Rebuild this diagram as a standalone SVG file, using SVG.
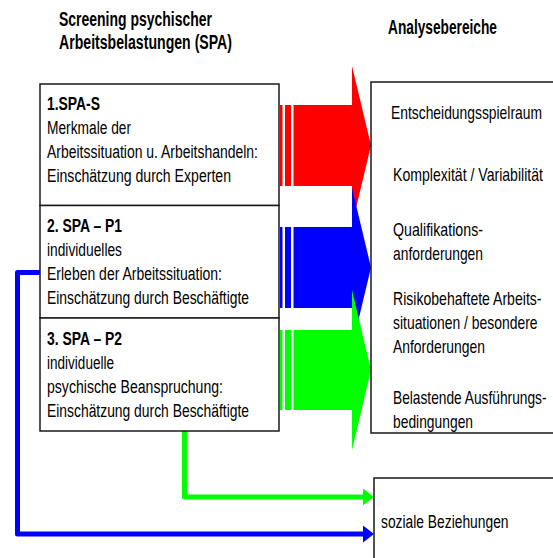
<svg xmlns="http://www.w3.org/2000/svg" width="553" height="558" viewBox="0 0 553 558">
<style>
text{font-family:"Liberation Sans",Arial,sans-serif;fill:#000;}
.t{font-size:20px;font-weight:bold;}
.h{font-size:18px;font-weight:bold;}
.n{font-size:18px;}
.box{fill:#fff;stroke:#1a1a1a;stroke-width:1.5;}
.open{fill:none;stroke:#1a1a1a;stroke-width:1.5;}
.ln{fill:none;stroke-width:5;stroke-linejoin:round;}
</style>
<defs>
<marker id="hg" markerUnits="userSpaceOnUse" viewBox="0 0 11 17" refX="0" refY="8.5" markerWidth="11" markerHeight="17" orient="auto"><path d="M0,0 L11,8.5 L0,17 z" fill="#00ff00"/></marker>
<marker id="hb" markerUnits="userSpaceOnUse" viewBox="0 0 11 17" refX="0" refY="8.5" markerWidth="11" markerHeight="17" orient="auto"><path d="M0,0 L11,8.5 L0,17 z" fill="#0000ff"/></marker>
</defs>
<g id="titles">
<text class="t" x="59" y="26" textLength="153" lengthAdjust="spacingAndGlyphs">Screening psychischer</text>
<text class="t" x="59" y="49" textLength="173" lengthAdjust="spacingAndGlyphs">Arbeitsbelastungen (SPA)</text>
<text class="t" x="388" y="34" textLength="109" lengthAdjust="spacingAndGlyphs">Analysebereiche</text>
</g>
<g id="connectors">
<g id="arrow-red" fill="#ff0000">
<rect x="280" y="105" width="2.5" height="81"/>
<rect x="285" y="105" width="6" height="81"/>
<polygon points="293.5,105 352,105 352,66 371,145.5 352,225 352,186 293.5,186"/>
</g>
<g id="arrow-blue" fill="#0000ff">
<rect x="280" y="227" width="2.5" height="81"/>
<rect x="285" y="227" width="6" height="81"/>
<polygon points="293.5,227 352,227 352,188 371,267.5 352,347 352,308 293.5,308"/>
</g>
<g id="arrow-green" fill="#00ff00">
<rect x="280" y="330" width="2.5" height="80"/>
<rect x="285" y="330" width="6" height="80"/>
<polygon points="293.5,330 352,330 352,290 371,370 352,450 352,410 293.5,410"/>
</g>
<polyline class="ln" stroke="#00ff00" points="184.5,431 184.5,497 363,497" marker-end="url(#hg)"/>
<polyline class="ln" stroke="#0000ff" points="40,272.5 17.5,272.5 17.5,534 363,534" marker-end="url(#hb)"/>
</g>
<g id="spa-s">
<rect class="box" x="40" y="84" width="239" height="121.5"/>
<text class="h" x="47" y="110" textLength="53" lengthAdjust="spacingAndGlyphs">1.SPA-S</text>
<text class="n" x="47" y="134" textLength="84" lengthAdjust="spacingAndGlyphs">Merkmale der</text>
<text class="n" x="47" y="158" textLength="211" lengthAdjust="spacingAndGlyphs">Arbeitssituation u. Arbeitshandeln:</text>
<text class="n" x="47" y="182" textLength="184" lengthAdjust="spacingAndGlyphs">Einschätzung durch Experten</text>
</g>
<g id="spa-p1">
<rect class="box" x="40" y="205.5" width="239" height="112.5"/>
<text class="h" x="47" y="232" textLength="75" lengthAdjust="spacingAndGlyphs">2. SPA – P1</text>
<text class="n" x="47" y="256" textLength="75" lengthAdjust="spacingAndGlyphs">individuelles</text>
<text class="n" x="47" y="280" textLength="175" lengthAdjust="spacingAndGlyphs">Erleben der Arbeitssituation:</text>
<text class="n" x="47" y="304" textLength="202" lengthAdjust="spacingAndGlyphs">Einschätzung durch Beschäftigte</text>
</g>
<g id="spa-p2">
<rect class="box" x="40" y="318" width="239" height="113"/>
<text class="h" x="47" y="345" textLength="75" lengthAdjust="spacingAndGlyphs">3. SPA – P2</text>
<text class="n" x="47" y="369" textLength="67" lengthAdjust="spacingAndGlyphs">individuelle</text>
<text class="n" x="47" y="393" textLength="176" lengthAdjust="spacingAndGlyphs">psychische Beanspruchung:</text>
<text class="n" x="47" y="417" textLength="202" lengthAdjust="spacingAndGlyphs">Einschätzung durch Beschäftigte</text>
</g>
<g id="analysebereiche">
<path class="open" d="M555,82 H371 V433 H555"/>
<g transform="translate(393,0) scale(0.78,1)">
<text class="n" x="-2.6" y="119" textLength="193.6" lengthAdjust="spacingAndGlyphs">Entscheidungsspielraum</text>
<text class="n" x="0" y="181" textLength="192.3" lengthAdjust="spacingAndGlyphs">Komplexität / Variabilität</text>
<text class="n" x="0" y="236" textLength="115.4" lengthAdjust="spacingAndGlyphs">Qualifikations-</text>
<text class="n" x="0" y="260" textLength="115.4" lengthAdjust="spacingAndGlyphs">anforderungen</text>
<text class="n" x="0" y="305" textLength="190.4" lengthAdjust="spacingAndGlyphs">Risikobehaftete Arbeits-</text>
<text class="n" x="0" y="329" textLength="185.3" lengthAdjust="spacingAndGlyphs">situationen / besondere</text>
<text class="n" x="0" y="353" textLength="117.9" lengthAdjust="spacingAndGlyphs">Anforderungen</text>
<text class="n" x="0" y="404" textLength="196.8" lengthAdjust="spacingAndGlyphs">Belastende Ausführungs-</text>
<text class="n" x="0" y="428" textLength="102.6" lengthAdjust="spacingAndGlyphs">bedingungen</text>
</g>
</g>
<g id="soziale-beziehungen">
<path class="open" d="M555,478 H374 V560"/>
<text class="n" x="381" y="528" textLength="127.5" lengthAdjust="spacingAndGlyphs">soziale Beziehungen</text>
</g>
</svg>
